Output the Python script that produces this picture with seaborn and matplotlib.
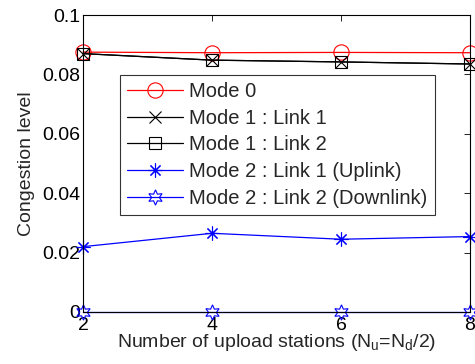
import matplotlib
matplotlib.use("Agg")
import matplotlib.pyplot as plt
import seaborn as sns
import pandas as pd

stations = [2, 4, 6, 8]
mode0 = [0.0875, 0.0873, 0.0874, 0.0873]
mode1_link1 = [0.0870, 0.0848, 0.0842, 0.0835]
mode1_link2 = [0.0870, 0.0848, 0.0842, 0.0835]
mode2_link1 = [0.0220, 0.0265, 0.0245, 0.0254]
mode2_link2 = [0.0, 0.0, 0.0, 0.0]

labels = ["Mode 0", "Mode 1 : Link 1", "Mode 1 : Link 2",
          "Mode 2 : Link 1 (Uplink)", "Mode 2 : Link 2 (Downlink)"]
series = [mode0, mode1_link1, mode1_link2, mode2_link1, mode2_link2]
colors = ["#ff0000", "#000000", "#000000", "#0000ff", "#0000ff"]
markers = ["o", "x", "s", (8, 2, 0), (6, 1, 0)]
msizes = [11, 8, 8, 10, 11]

sns.set_style("white")
plt.rcParams['font.family'] = ['Liberation Sans', 'DejaVu Sans']
plt.rcParams['mathtext.fontset'] = 'custom'
plt.rcParams['mathtext.rm'] = 'Liberation Sans'
plt.rcParams['mathtext.it'] = 'Liberation Sans'

fig = plt.figure(figsize=(4.75, 3.64), dpi=100)
ax = fig.add_axes([83/475, 1 - 312/364, (470-83)/475, (312-15)/364])

for lab, vals, c, m, ms in zip(labels, series, colors, markers, msizes):
    df = pd.DataFrame({"x": stations, "y": vals})
    filled = m in ("x",) or m == (8, 2, 0)
    sns.lineplot(data=df, x="x", y="y", ax=ax, color=c, marker=m,
                 markersize=ms, linewidth=0.9, label=lab,
                 markerfacecolor=(c if filled else "none"),
                 markeredgecolor=c, markeredgewidth=0.8, clip_on=False)

ax.set_xlim(2, 8)
ax.set_ylim(0, 0.1)
ax.set_xticks([2, 4, 6, 8])
ax.set_yticks([0, 0.02, 0.04, 0.06, 0.08, 0.1])
ax.set_yticklabels(["0", "0.02", "0.04", "0.06", "0.08", "0.1"])
ax.tick_params(direction="in", top=True, right=True, length=4, width=0.6,
               labelsize=14, colors="black", pad=2)
ax.tick_params(axis="x", pad=3.5)
for s in ax.spines.values():
    s.set_visible(True)
    s.set_color("black")
    s.set_linewidth(0.8)
ax.set_xlabel("Number of upload stations (N$_u$=N$_d$/2)", fontsize=14, labelpad=-1)
ax.set_ylabel("Congestion level", fontsize=14, labelpad=5)

leg = ax.legend(loc="upper left", bbox_to_anchor=((120-83)/387, (312-75)/297),
                frameon=True, fancybox=False, fontsize=14.5, handlelength=2.8,
                handletextpad=0.3, borderaxespad=0, labelspacing=0.38,
                borderpad=0.35)
leg.get_frame().set_edgecolor("black")
leg.get_frame().set_linewidth(0.8)

fig.savefig("out.png", dpi=100)
